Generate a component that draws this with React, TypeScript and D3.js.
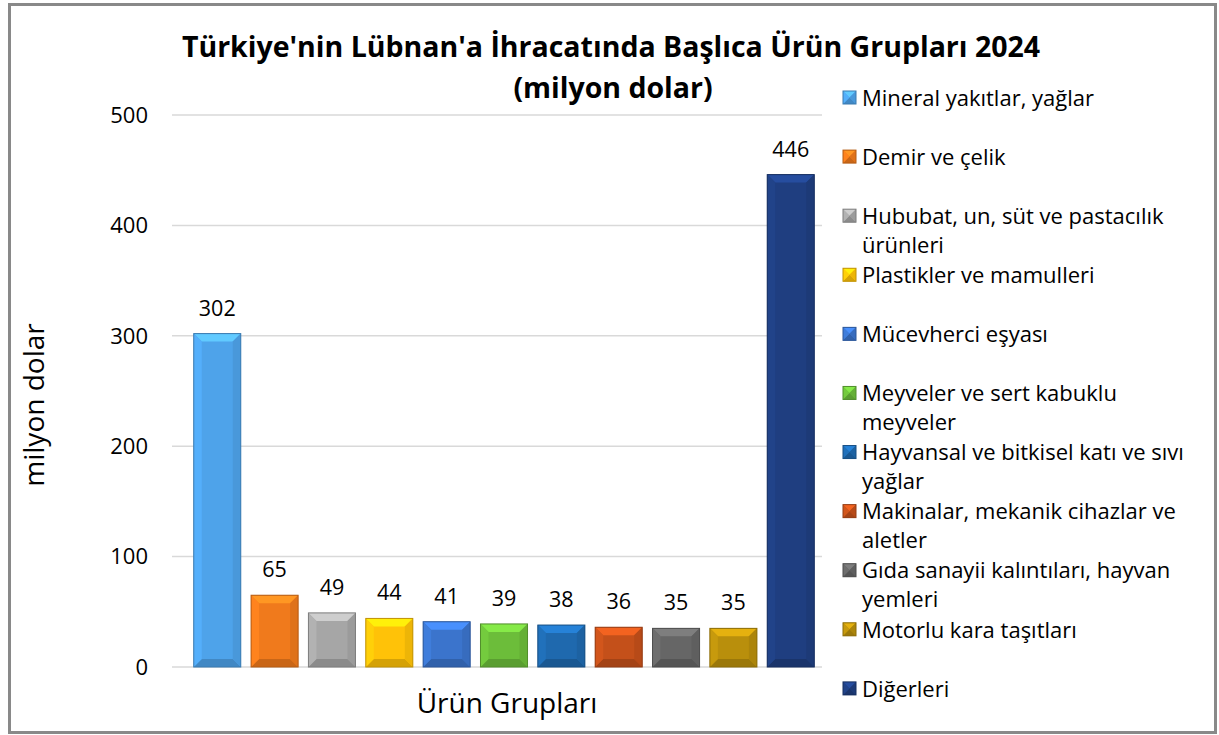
import React from 'react';
import * as d3 from 'd3';

const categories = [
  'Mineral yakıtlar, yağlar',
  'Demir ve çelik',
  'Hububat, un, süt ve pastacılık ürünleri',
  'Plastikler ve mamulleri',
  'Mücevherci eşyası',
  'Meyveler ve sert kabuklu meyveler',
  'Hayvansal ve bitkisel katı ve sıvı yağlar',
  'Makinalar, mekanik cihazlar ve aletler',
  'Gıda sanayii kalıntıları, hayvan yemleri',
  'Motorlu kara taşıtları',
  'Diğerleri',
];
const legendLines = [
  ['Mineral yakıtlar, yağlar'],
  ['Demir ve çelik'],
  ['Hububat, un, süt ve pastacılık', 'ürünleri'],
  ['Plastikler ve mamulleri'],
  ['Mücevherci eşyası'],
  ['Meyveler ve sert kabuklu', 'meyveler'],
  ['Hayvansal ve bitkisel katı ve sıvı', 'yağlar'],
  ['Makinalar, mekanik cihazlar ve', 'aletler'],
  ['Gıda sanayii kalıntıları, hayvan', 'yemleri'],
  ['Motorlu kara taşıtları'],
  ['Diğerleri'],
];
const values = [302, 65, 49, 44, 41, 39, 38, 36, 35, 35, 446];
const colors = ['#4ea3ea', '#f07a1c', '#a6a6a6', '#ffc208', '#3b74cc', '#6cbd3a', '#1f69ae', '#c4501a', '#666666', '#b98f0c', '#1f3e80'];
const yTicks = [0, 100, 200, 300, 400, 500];

const FONT = "'Open Sans', 'Noto Sans', sans-serif";

function Bar({ x, y, w, h, color }: { x: number; y: number; w: number; h: number; color: string }) {
  const b = Math.min(8, h / 2, w / 2);
  const c = d3.color(color)!;
  const light = c.brighter(0.6).formatHex();
  const dark = c.darker(0.5).formatHex();
  const side = c.darker(0.2).formatHex();
  const sideL = c.brighter(0.2).formatHex();
  const x2 = x + w, y2 = y + h;
  return (
    <g>
      <rect x={x} y={y} width={w} height={h} fill={color} />
      <polygon points={`${x},${y} ${x2},${y} ${x2 - b},${y + b} ${x + b},${y + b}`} fill={light} />
      <polygon points={`${x},${y2} ${x2},${y2} ${x2 - b},${y2 - b} ${x + b},${y2 - b}`} fill={dark} />
      <polygon points={`${x},${y} ${x + b},${y + b} ${x + b},${y2 - b} ${x},${y2}`} fill={sideL} />
      <polygon points={`${x2},${y} ${x2 - b},${y + b} ${x2 - b},${y2 - b} ${x2},${y2}`} fill={side} />
      <rect x={x} y={y} width={w} height={h} fill="none" stroke={c.darker(0.8).formatHex()} strokeWidth={1} />
    </g>
  );
}

export default function App() {
  const width = 1219, height = 735;
  const y = d3.scaleLinear().domain([0, 500]).range([667, 115]);
  const x = d3.scaleBand<string>().domain(categories).range([188, 820]).paddingInner(0.18).paddingOuter(0.1);
  const legendY = d3.scaleBand<string>().domain(categories).range([68, 718]);

  return (
    <svg width={width} height={height} style={{ position: 'absolute', left: 0, top: 0 }}>
      <rect x={0} y={0} width={width} height={height} fill="#fff" />
      <rect x={9.5} y={4.5} width={1206} height={728} fill="#fff" stroke="#898989" strokeWidth={3} />

      <text x={611} y={57} textAnchor="middle" fontFamily={FONT} fontWeight="bold" fontSize={28.5} fill="#000">
        Türkiye'nin Lübnan'a İhracatında Başlıca Ürün Grupları 2024
      </text>
      <text x={613} y={98} textAnchor="middle" fontFamily={FONT} fontWeight="bold" fontSize={28.5} fill="#000">
        (milyon dolar)
      </text>

      {yTicks.map(t => (
        <g key={t}>
          <line x1={172} x2={822} y1={y(t)} y2={y(t)} stroke="#d9d9d9" strokeWidth={1.5} />
          <text x={148} y={y(t)} dy="0.35em" textAnchor="end" fontFamily={FONT} fontSize={22} fill="#000">{t}</text>
        </g>
      ))}

      {categories.map((c, i) => {
        const bx = x(c)!;
        const by = y(values[i]);
        return (
          <g key={c}>
            <Bar x={bx} y={by} w={x.bandwidth()} h={y(0) - by} color={colors[i]} />
            <text x={bx + x.bandwidth() / 2} y={by - 18} textAnchor="middle" fontFamily={FONT} fontSize={21.5} fill="#000">
              {values[i]}
            </text>
          </g>
        );
      })}

      <text transform={`translate(44,405) rotate(-90)`} textAnchor="middle" fontFamily={FONT} fontSize={28} fill="#000">
        milyon dolar
      </text>
      <text x={507} y={713} textAnchor="middle" fontFamily={FONT} fontSize={28} fill="#000">
        Ürün Grupları
      </text>

      {categories.map((c, i) => {
        const ly = legendY(c)! + 30;
        return (
          <g key={'l' + c}>
            <Bar x={843} y={ly - 7} w={13} h={13} color={colors[i]} />
            {legendLines[i].map((line, j) => (
              <text key={j} x={862} y={ly + j * 29} dy="0.35em" fontFamily={FONT} fontSize={22} fill="#000">{line}</text>
            ))}
          </g>
        );
      })}
    </svg>
  );
}
